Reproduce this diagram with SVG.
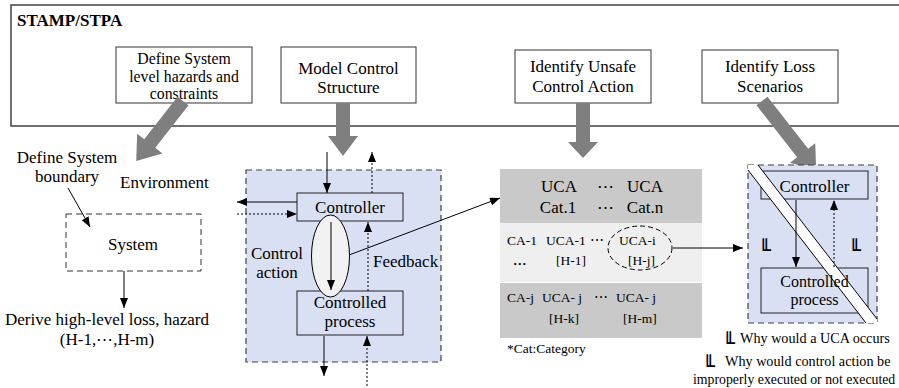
<svg xmlns="http://www.w3.org/2000/svg" width="899" height="388" viewBox="0 0 899 388">
<defs>
<marker id="ah" markerWidth="10" markerHeight="8" refX="10" refY="4" orient="auto" markerUnits="userSpaceOnUse"><path d="M0,0 L10,4 L0,8 z" fill="#000"/></marker>
</defs>
<style>
text{font-family:"Liberation Serif","Times New Roman",serif;fill:#000}
.t17{font-size:17px}
.t16{font-size:16px}
.tb1{font-size:15.8px}
.t13{font-size:13.5px}
.t14{font-size:14.2px}
.t138{font-size:13.8px}
.m{text-anchor:middle}
.box{fill:#fff;stroke:#333;stroke-width:1}
.zone{fill:#dae0f3;stroke:#404040;stroke-width:1.2;stroke-dasharray:6 4}
.inner{fill:#dae0f3;stroke:#222;stroke-width:1}
.ln{stroke:#000;stroke-width:1;fill:none}
.dot{stroke:#000;stroke-width:1;fill:none;stroke-dasharray:2 2}
.big{fill:#7f7f7f}
.sym{font-family:"DejaVu Sans Mono","DejaVu Sans",monospace;font-size:20px;fill:#000}
</style>
<rect width="899" height="388" fill="#fff"/>

<g id="frame">
<rect x="11" y="5" width="900" height="121" fill="#fff" stroke="#404040" stroke-width="1.5"/>
<text x="17" y="26" class="t17" font-weight="bold">STAMP/STPA</text>
</g>

<g id="step1">
<rect x="116" y="47" width="136" height="56" class="box"/>
<text class="tb1 m" x="184" y="64">Define System</text>
<text class="tb1 m" x="184" y="81.5">level hazards and</text>
<text class="tb1 m" x="184" y="99">constraints</text>
</g>
<g id="step2">
<rect x="281" y="47" width="135" height="56" class="box"/>
<text class="t17 m" x="348.5" y="74">Model Control</text>
<text class="t17 m" x="348.5" y="93">Structure</text>
</g>
<g id="step3">
<rect x="515" y="50" width="136" height="53" class="box"/>
<text class="t17 m" x="583" y="72">Identify Unsafe</text>
<text class="t17 m" x="583" y="92">Control Action</text>
</g>
<g id="step4">
<rect x="702" y="50" width="136" height="53" class="box"/>
<text class="t17 m" x="770" y="72">Identify Loss</text>
<text class="t17 m" x="770" y="92">Scenarios</text>
</g>

<g id="big-arrows">
<polygon class="big" transform="translate(183,101) rotate(38)" points="-7,0 7,0 7,54 16,54 0,76 -16,54 -7,54"/>
<polygon class="big" points="336,103 350,103 350,136 358,136 343,156 328,136 336,136"/>
<polygon class="big" points="576,103 590,103 590,142 598,142 583,158 568,142 576,142"/>
<polygon class="big" transform="translate(762,101) rotate(-38)" points="-7,0 7,0 7,66 16,66 0,88 -16,66 -7,66"/>
</g>

<g id="boundary">
<text class="t17 m" x="67" y="163">Define System</text>
<text class="t17 m" x="67" y="182">boundary</text>
<text class="t17" x="120" y="188">Environment</text>
</g>
<g id="system">
<rect x="66" y="214" width="135" height="57" fill="#fff" stroke="#333" stroke-dasharray="6 4"/>
<text class="t17 m" x="133" y="250">System</text>
</g>
<g id="derive">
<text class="t17 m" x="107" y="325">Derive high-level loss, hazard</text>
<text class="t17 m" x="107" y="345">(H-1,⋯,H-m)</text>
</g>

<g id="control-structure">
<rect x="246" y="170" width="195" height="192" class="zone"/>
<rect x="297" y="193" width="106" height="28" class="inner"/>
<text class="t17 m" x="350" y="213">Controller</text>
<rect x="297" y="291" width="106" height="44" class="inner"/>
<text class="t17 m" x="350" y="308">Controlled</text>
<text class="t17 m" x="350" y="327">process</text>
<ellipse cx="330.5" cy="256" rx="19" ry="41" fill="#f2f2f2" stroke="#000"/>
<text class="t17 m" x="277" y="259">Control</text>
<text class="t17 m" x="277" y="278">action</text>
<text class="t17" x="373" y="267">Feedback</text>
</g>

<g id="uca-table">
<rect x="500" y="169" width="202" height="54" fill="#c9c9c9"/>
<rect x="500" y="223" width="202" height="59" fill="#efefef"/>
<rect x="500" y="283" width="202" height="55" fill="#c9c9c9"/>
<text class="t17 m" x="559" y="192">UCA</text>
<text class="t17 m" x="605" y="192">⋯</text>
<text class="t17 m" x="645" y="192">UCA</text>
<text class="t17 m" x="558" y="213">Cat.1</text>
<text class="t17 m" x="605" y="213">⋯</text>
<text class="t17 m" x="645" y="213">Cat.n</text>
<text class="t13" x="507" y="245">CA-1</text>
<text class="t13" x="546" y="245">UCA-1</text>
<text class="t13" x="590" y="245">⋯</text>
<text class="t13" x="619" y="245">UCA-i</text>
<text class="t13" x="513" y="265" font-weight="bold">…</text>
<text class="t13" x="556" y="265">[H-1]</text>
<text class="t13" x="628" y="265">[H-j]</text>
<ellipse cx="640" cy="248" rx="32" ry="22" fill="none" stroke="#000" stroke-dasharray="5 3"/>
<text class="t13" x="507" y="302">CA-j</text>
<text class="t13" x="542" y="302">UCA- j</text>
<text class="t13" x="594" y="302">⋯</text>
<text class="t13" x="616" y="302">UCA- j</text>
<text class="t13" x="549" y="323">[H-k]</text>
<text class="t13" x="623" y="323">[H-m]</text>
<text class="t13" x="507" y="353">*Cat:Category</text>
</g>

<g id="loss-scenario">
<rect x="748" y="165" width="129" height="158" class="zone"/>
<rect x="761" y="171" width="107" height="28" class="inner"/>
<rect x="761" y="268" width="107" height="45" class="inner"/>
<polygon points="748,165 758,165 877,319 877,323 866,323 748,170" fill="#fff"/>
<line x1="748" y1="170" x2="866" y2="323" class="ln"/>
<line x1="758" y1="165" x2="877" y2="319" class="ln"/>
<text class="t17 m" x="814.5" y="192">Controller</text>
<text class="t16 m" x="814.5" y="287">Controlled</text>
<text class="t16 m" x="814.5" y="305">process</text>
<text class="sym" x="759" y="257">╙</text>
<text class="sym" x="849" y="257">╙</text>
</g>

<g id="legend">
<text class="sym" x="723" y="350">╙</text>
<text class="t14" x="740" y="343">Why would a UCA occurs</text>
<text class="sym" x="703" y="373">╙</text>
<text class="t14" x="725" y="366">Why would control action be</text>
<text class="t138" x="693" y="384">improperly executed or not executed</text>
</g>

<g id="connectors">
<line x1="68" y1="188" x2="90" y2="227" class="ln" marker-end="url(#ah)"/>
<line x1="124" y1="271" x2="124" y2="308" class="ln" marker-end="url(#ah)"/>
<line x1="297" y1="202" x2="237" y2="202" class="ln" marker-end="url(#ah)"/>
<line x1="237" y1="214" x2="297" y2="214" class="dot" marker-end="url(#ah)"/>
<line x1="327" y1="152" x2="327" y2="193" class="ln" marker-end="url(#ah)"/>
<line x1="372" y1="193" x2="372" y2="152" class="dot" marker-end="url(#ah)"/>
<line x1="331" y1="222" x2="331" y2="290" class="ln" marker-end="url(#ah)"/>
<line x1="368" y1="291" x2="368" y2="222" class="dot" marker-end="url(#ah)"/>
<line x1="324" y1="336" x2="324" y2="376" class="ln" marker-end="url(#ah)"/>
<line x1="367" y1="386" x2="367" y2="336" class="dot" marker-end="url(#ah)"/>
<line x1="349" y1="255" x2="500" y2="198" class="ln" marker-end="url(#ah)"/>
<line x1="673" y1="248" x2="743" y2="248" class="ln" marker-end="url(#ah)"/>
<line x1="796" y1="200" x2="796" y2="267" class="ln" marker-end="url(#ah)"/>
<line x1="834" y1="267" x2="834" y2="200" class="dot" marker-end="url(#ah)"/>
</g>
</svg>
